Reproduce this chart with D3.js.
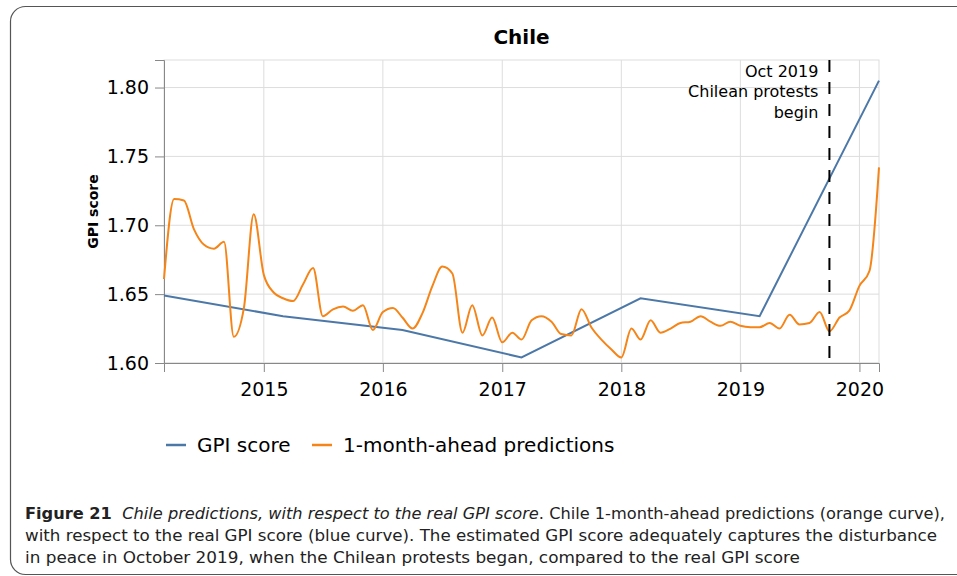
<!DOCTYPE html>
<html><head><meta charset="utf-8">
<script src="https://cdn.jsdelivr.net/npm/d3@7"></script>
<style>body{margin:0;background:#fff}svg{display:block}</style>
</head><body>
<svg id="c" width="957" height="576"></svg>
<script>
// ---- data ----
const title = "Chile";
const yTitle = "GPI score";
const seriesNames = ["GPI score", "1-month-ahead predictions"];
const gpiDates = ["2014-03","2015-03","2016-03","2017-03","2018-03","2019-03","2020-03"];
const gpiValues = [1.649, 1.634, 1.624, 1.604, 1.647, 1.634, 1.805];
const predStart = "2014-03";
const predValues = [
 1.661,1.719,1.718,1.697,1.686,1.683,1.688,1.619,1.640,1.708,1.664,1.651,
 1.647,1.645,1.657,1.669,1.634,1.639,1.641,1.638,1.642,1.624,1.637,1.640,
 1.633,1.625,1.636,1.656,1.670,1.665,1.622,1.642,1.620,1.633,1.615,1.622,
 1.617,1.631,1.634,1.630,1.621,1.620,1.639,1.626,1.617,1.610,1.604,1.625,
 1.617,1.631,1.622,1.625,1.629,1.630,1.634,1.630,1.627,1.630,1.627,1.626,
 1.626,1.629,1.625,1.635,1.628,1.629,1.637,1.623,1.633,1.638,1.656,1.667,
 1.742];
const yTicks = [1.60, 1.65, 1.70, 1.75, 1.80];
const yDomain = [1.60, 1.82];
const xTickYears = ["2015","2016","2017","2018","2019","2020"];
const eventDate = "2019-10";
const eventLabel = ["Oct 2019", "Chilean protests", "begin"];
const captionLines = [
  [{t:"Figure 21", w:"bold"}, {t:"  "}, {t:"Chile predictions, with respect to the real GPI score", s:"italic"}, {t:". Chile 1-month-ahead predictions (orange curve),"}],
  [{t:"with respect to the real GPI score (blue curve). The estimated GPI score adequately captures the disturbance"}],
  [{t:"in peace in October 2019, when the Chilean protests began, compared to the real GPI score"}]
];
const colors = ["#4c78a8", "#f58518"];

// ---- layout ----
const parseM = d3.timeParse("%Y-%m");
const parseY = d3.timeParse("%Y");
const svg = d3.select("#c");
const L = 164, R = 879, T = 60, B = 363;
const font = "'DejaVu Sans', sans-serif";

// frame
svg.append("rect").attr("x", 10.5).attr("y", 6.5).attr("width", 990).attr("height", 568)
  .attr("rx", 15).attr("fill", "none").attr("stroke", "#555").attr("stroke-width", 1.2);

const predDates = predValues.map((v, i) => d3.timeMonth.offset(parseM(predStart), i));
const x = d3.scaleTime().domain([parseM(gpiDates[0]), parseM(gpiDates[gpiDates.length-1])]).range([L, R]);
const y = d3.scaleLinear().domain(yDomain).range([B, T]);

const g = svg.append("g");
// grid
const xTickDates = xTickYears.map(parseY);
g.selectAll(".vg").data(xTickDates).join("line")
  .attr("x1", d => x(d)).attr("x2", d => x(d)).attr("y1", T).attr("y2", B)
  .attr("stroke", "#ddd").attr("stroke-width", 1);
g.selectAll(".hg").data(yTicks).join("line")
  .attr("x1", L).attr("x2", R).attr("y1", d => y(d)).attr("y2", d => y(d))
  .attr("stroke", "#ddd").attr("stroke-width", 1);
// view border
g.append("rect").attr("x", L).attr("y", T).attr("width", R - L).attr("height", B - T)
  .attr("fill", "none").attr("stroke", "#ddd");

// axes
const xAxis = d3.axisBottom(x).tickValues(xTickDates).tickFormat(d3.timeFormat("%Y")).tickSize(9).tickPadding(6);
const yAxis = d3.axisLeft(y).tickValues(yTicks).tickFormat(d3.format(".2f")).tickSize(9).tickPadding(6);
const gx = svg.append("g").attr("transform", `translate(0,${B})`).call(xAxis);
const gy = svg.append("g").attr("transform", `translate(${L},0)`).call(yAxis);
[gx, gy].forEach(a => {
  a.select(".domain").attr("stroke", "#888");
  a.selectAll(".tick line").attr("stroke", "#888");
  a.selectAll(".tick text").attr("font-family", font).attr("font-size", 19).attr("fill", "#000");
});
gx.selectAll(".tick text").attr("dy", "0.95em");

// axis title
svg.append("text").attr("transform", `translate(98,${(T + B) / 2}) rotate(-90)`)
  .attr("text-anchor", "middle").attr("font-family", font).attr("font-weight", "bold")
  .attr("font-size", 14).text(yTitle);

// title
svg.append("text").attr("x", (L + R) / 2).attr("y", 44).attr("text-anchor", "middle")
  .attr("font-family", font).attr("font-weight", "bold").attr("font-size", 20).text(title);

// lines
const gpiData = gpiDates.map((d, i) => ({d: parseM(d), v: gpiValues[i]}));
const predData = predDates.map((d, i) => ({d, v: predValues[i]}));
svg.append("path").datum(gpiData).attr("fill", "none").attr("stroke", colors[0]).attr("stroke-width", 2)
  .attr("d", d3.line().x(p => x(p.d)).y(p => y(p.v)));
svg.append("path").datum(predData).attr("fill", "none").attr("stroke", colors[1]).attr("stroke-width", 2)
  .attr("d", d3.line().curve(d3.curveMonotoneX).x(p => x(p.d)).y(p => y(p.v)));

// event line
const ex = x(parseM(eventDate));
svg.append("line").attr("x1", ex).attr("x2", ex).attr("y1", T).attr("y2", B)
  .attr("stroke", "#000").attr("stroke-width", 2).attr("stroke-dasharray", "12,10");
eventLabel.forEach((t, i) => {
  svg.append("text").attr("x", ex - 11).attr("y", 76.5 + i * 20.5).attr("text-anchor", "end")
    .attr("font-family", font).attr("font-size", 16).attr("fill", "#000").text(t);
});

// legend
const legX = [166, 312];
seriesNames.forEach((n, i) => {
  svg.append("line").attr("x1", legX[i]).attr("x2", legX[i] + 20).attr("y1", 445).attr("y2", 445)
    .attr("stroke", colors[i]).attr("stroke-width", 2.5);
  svg.append("text").attr("x", legX[i] + 31).attr("y", 452).attr("font-family", font)
    .attr("font-size", 20).attr("fill", "#000").text(n);
});

// caption
const capW = [920, 912, 775];
captionLines.forEach((segs, i) => {
  const t = svg.append("text").attr("x", 25).attr("y", 519 + i * 22)
    .attr("font-family", "'Liberation Sans Narrow', 'DejaVu Sans Condensed', 'Liberation Sans', sans-serif")
    .attr("font-size", 16.5).attr("fill", "#222")
    .attr("textLength", capW[i]).attr("lengthAdjust", "spacingAndGlyphs");
  segs.forEach(s => {
    t.append("tspan").attr("font-weight", s.w || "normal").attr("font-style", s.s || "normal")
      .attr("xml:space", "preserve").text(s.t);
  });
});
</script>
</body></html>
